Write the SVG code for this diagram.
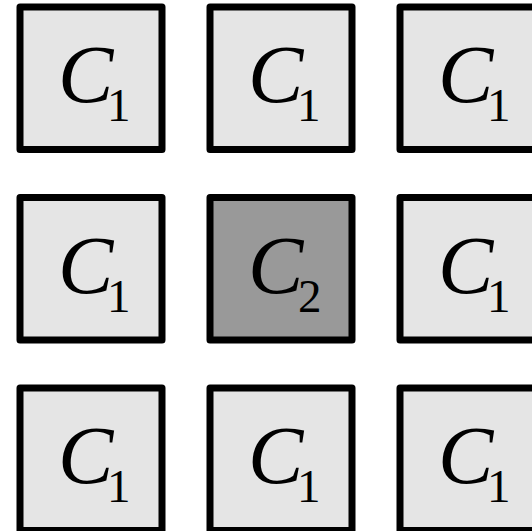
<svg xmlns="http://www.w3.org/2000/svg" width="532" height="531" viewBox="0 0 532 531">
<style>
.b{fill:#e5e5e5;stroke:#000;stroke-width:7;stroke-linejoin:round}
.d{fill:#999999}
text{font-family:'Liberation Serif','Times New Roman',Times,serif;fill:#000}
.c{font-style:italic;font-size:83px}
.s{font-size:47px}
</style>
<defs>
<g id="c1"><rect class="b" x="0" y="0" width="142" height="142.5"/><text class="c" x="38" y="95">C</text><text class="s" x="87" y="114">1</text></g>
</defs>
<g id="n11"><use href="#c1" x="20" y="7"/></g>
<g id="n12"><use href="#c1" x="210" y="7"/></g>
<g id="n13"><use href="#c1" x="400" y="7"/></g>
<g id="n21"><use href="#c1" x="20" y="197.5"/></g>
<g id="n22"><rect class="b d" x="210" y="197.5" width="142" height="142.5"/><text class="c" x="248" y="292.5">C</text><text class="s" x="298" y="311.5">2</text></g>
<g id="n23"><use href="#c1" x="400" y="197.5"/></g>
<g id="n31"><use href="#c1" x="20" y="388"/></g>
<g id="n32"><use href="#c1" x="210" y="388"/></g>
<g id="n33"><use href="#c1" x="400" y="388"/></g>
<g id="connectors"/>
</svg>
